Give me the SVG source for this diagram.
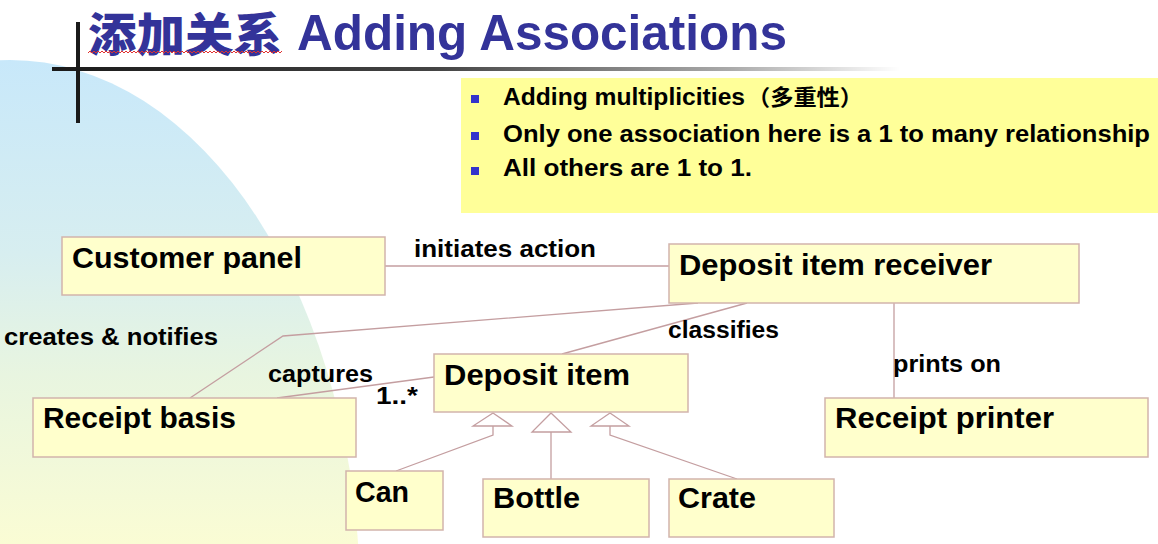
<svg xmlns="http://www.w3.org/2000/svg" width="1158" height="544" viewBox="0 0 1158 544">
  <defs>
    <linearGradient id="bgFade" gradientUnits="userSpaceOnUse" x1="0" y1="60" x2="0" y2="544">
      <stop offset="0" stop-color="#c8e8fa"/>
      <stop offset="0.4" stop-color="#d7eef0"/>
      <stop offset="0.65" stop-color="#e8f5e0"/>
      <stop offset="1" stop-color="#fafcd4"/>
    </linearGradient>
    <linearGradient id="ruleFade" gradientUnits="userSpaceOnUse" x1="52" y1="0" x2="900" y2="0">
      <stop offset="0" stop-color="#1a1a1a"/>
      <stop offset="0.45" stop-color="#444"/>
      <stop offset="0.8" stop-color="#aaa"/>
      <stop offset="1" stop-color="#fff"/>
    </linearGradient>
    <style>
      .title { font-family: "Liberation Sans", Arial, sans-serif; font-weight: bold; font-size: 50px; fill: #333399; }
      .titlecjk { font-family: "Noto Sans CJK SC", sans-serif; font-weight: 900; font-size: 46px; fill: #333399; }
      .bullet { font-family: "Liberation Sans", Arial, sans-serif; font-weight: bold; font-size: 23px; fill: #000; }
      .bulletcjk { font-family: "Noto Sans CJK SC", sans-serif; font-weight: bold; font-size: 22px; fill: #000; }
      .box { fill: #ffffcc; stroke: #d2b4ac; stroke-width: 1.5; }
      .name { font-family: "Liberation Sans", Arial, sans-serif; font-weight: bold; font-size: 29px; fill: #000; }
      .label { font-family: "Liberation Sans", Arial, sans-serif; font-weight: bold; font-size: 23px; fill: #000; }
      .link { fill: none; stroke: #c49ea0; stroke-width: 1.3; }
      .head { fill: #fff; stroke: #c49ea0; stroke-width: 1.3; }
    </style>
  </defs>

  <!-- page background -->
  <rect x="0" y="0" width="1158" height="544" fill="#fff"/>
  <ellipse cx="10" cy="600" rx="350" ry="540" fill="url(#bgFade)"/>

  <!-- title rule cross -->
  <rect x="52" y="67" width="860" height="4" fill="url(#ruleFade)"/>
  <rect x="76" y="22" width="4" height="101" fill="#1a1a1a"/>

  <!-- title -->
  <g id="title">
    <text class="titlecjk" x="88" y="51" textLength="194" lengthAdjust="spacingAndGlyphs">添加关系</text>
    <text class="title" x="297" y="50" textLength="490" lengthAdjust="spacingAndGlyphs">Adding Associations</text>
    <polyline fill="none" stroke="#e03030" stroke-width="1" points="88,53 90,51 92,53 94,51 96,53 98,51 100,53 102,51 104,53 106,51 108,53 110,51 112,53 114,51 116,53 118,51 120,53 122,51 124,53 126,51 128,53 130,51 132,53 134,51 136,53 138,51 140,53 142,51 144,53 146,51 148,53 150,51 152,53 154,51 156,53 158,51 160,53 162,51 164,53 166,51 168,53 170,51 172,53 174,51 176,53 178,51 180,53 182,51 184,53 186,51 188,53 190,51 192,53 194,51 196,53 198,51 200,53 202,51 204,53 206,51 208,53 210,51 212,53 214,51 216,53 218,51 220,53 222,51 224,53 226,51 228,53 230,51 232,53 234,51 236,53 238,51 240,53 242,51 244,53 246,51 248,53 250,51 252,53 254,51 256,53 258,51 260,53 262,51 264,53 266,51 268,53 270,51 272,53 274,51 276,53 278,51 280,53 282,51"/>
  </g>

  <!-- notes panel -->
  <g id="notes">
    <rect x="461" y="78" width="697" height="135" fill="#ffff99"/>
    <rect x="471" y="95" width="8" height="8" fill="#3333cc"/>
    <rect x="471" y="132" width="8" height="8" fill="#3333cc"/>
    <rect x="471" y="167" width="8" height="8" fill="#3333cc"/>
    <text class="bullet" x="503" y="105" textLength="242" lengthAdjust="spacingAndGlyphs">Adding multiplicities</text>
    <text class="bulletcjk" x="747" y="105" textLength="116" lengthAdjust="spacingAndGlyphs">（多重性）</text>
    <text class="bullet" x="503" y="142" textLength="647" lengthAdjust="spacingAndGlyphs">Only one association here is a 1 to many relationship</text>
    <text class="bullet" x="503" y="176" textLength="249" lengthAdjust="spacingAndGlyphs">All others are 1 to 1.</text>
  </g>

  <!-- connectors -->
  <g id="connectors">
    <line class="link" x1="385" y1="266" x2="669" y2="266"/>
    <polyline class="link" points="698,303 283,336 190,398"/>
    <line class="link" x1="277" y1="398" x2="434" y2="377"/>
    <line class="link" x1="562" y1="354" x2="747" y2="303"/>
    <line class="link" x1="894" y1="303" x2="894" y2="398"/>
    <!-- generalisation: Can -->
    <polyline class="link" points="493,426 493,435 396,471"/>
    <polygon class="head" points="493,413 512,426 473,426"/>
    <!-- generalisation: Bottle -->
    <line class="link" x1="551" y1="432" x2="551" y2="479"/>
    <polygon class="head" points="551,413 571,432 532,432"/>
    <!-- generalisation: Crate -->
    <polyline class="link" points="610,426 610,435 737,479"/>
    <polygon class="head" points="610,413 629,426 591,426"/>

    <text class="label" x="414" y="257" textLength="182" lengthAdjust="spacingAndGlyphs">initiates action</text>
    <text class="label" x="4" y="345" textLength="214" lengthAdjust="spacingAndGlyphs">creates &amp; notifies</text>
    <text class="label" x="268" y="382" textLength="105" lengthAdjust="spacingAndGlyphs">captures</text>
    <text class="label" x="376" y="404" textLength="42" lengthAdjust="spacingAndGlyphs">1..*</text>
    <text class="label" x="668" y="338" textLength="111" lengthAdjust="spacingAndGlyphs">classifies</text>
    <text class="label" x="893" y="372" textLength="108" lengthAdjust="spacingAndGlyphs">prints on</text>
  </g>

  <!-- classes -->
  <g id="customer-panel">
    <rect class="box" x="62" y="237" width="323" height="58"/>
    <text class="name" x="72" y="268" textLength="230" lengthAdjust="spacingAndGlyphs">Customer panel</text>
  </g>
  <g id="deposit-item-receiver">
    <rect class="box" x="669" y="244" width="410" height="59"/>
    <text class="name" x="679" y="275" textLength="313" lengthAdjust="spacingAndGlyphs">Deposit item receiver</text>
  </g>
  <g id="receipt-basis">
    <rect class="box" x="33" y="398" width="323" height="59"/>
    <text class="name" x="43" y="428" textLength="193" lengthAdjust="spacingAndGlyphs">Receipt basis</text>
  </g>
  <g id="deposit-item">
    <rect class="box" x="434" y="354" width="254" height="58"/>
    <text class="name" x="444" y="385" textLength="186" lengthAdjust="spacingAndGlyphs">Deposit item</text>
  </g>
  <g id="receipt-printer">
    <rect class="box" x="825" y="398" width="323" height="59"/>
    <text class="name" x="835" y="428" textLength="219" lengthAdjust="spacingAndGlyphs">Receipt printer</text>
  </g>
  <g id="can">
    <rect class="box" x="346" y="471" width="97" height="59"/>
    <text class="name" x="355" y="502" textLength="54" lengthAdjust="spacingAndGlyphs">Can</text>
  </g>
  <g id="bottle">
    <rect class="box" x="483" y="479" width="166" height="58"/>
    <text class="name" x="493" y="508" textLength="87" lengthAdjust="spacingAndGlyphs">Bottle</text>
  </g>
  <g id="crate">
    <rect class="box" x="669" y="479" width="165" height="58"/>
    <text class="name" x="678" y="508" textLength="78" lengthAdjust="spacingAndGlyphs">Crate</text>
  </g>
</svg>
